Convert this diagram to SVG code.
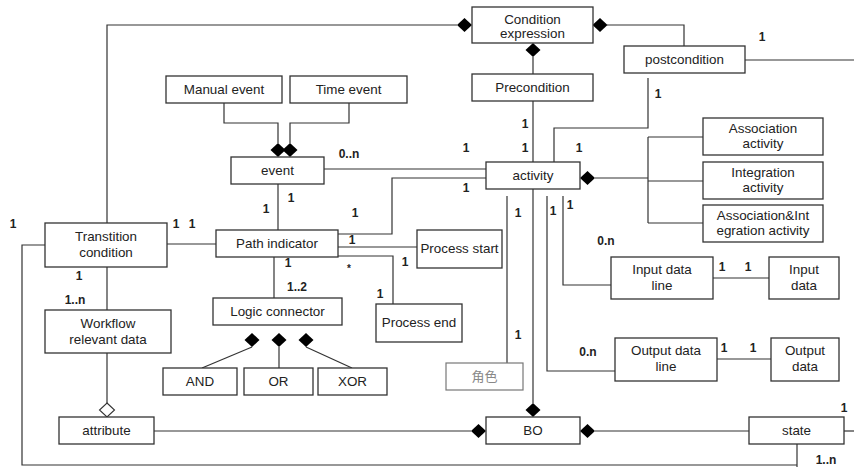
<svg xmlns="http://www.w3.org/2000/svg" xmlns:xlink="http://www.w3.org/1999/xlink" width="854" height="467" viewBox="0 0 854 467">
<style>
.b{fill:#fff;stroke:#333;stroke-width:1.3}
.g{fill:#fff;stroke:#777;stroke-width:1.2}
.t{font-family:"Liberation Sans",Arial,sans-serif;font-size:13.4px;fill:#222;text-anchor:middle}
.tg{font-family:"Liberation Sans","Noto Sans CJK SC",sans-serif;font-size:13px;fill:#888;text-anchor:middle}
.l{font-family:"Liberation Sans",Arial,sans-serif;font-size:12px;font-weight:bold;fill:#222;text-anchor:middle}
.c{fill:none;stroke:#333;stroke-width:1.2}
.d{fill:#000}
.h{fill:#fff;stroke:#333;stroke-width:1.1}
</style>
<defs>
<polygon id="dm" points="0,-7 7.5,0 0,7 -7.5,0"/>
</defs>
<rect width="854" height="467" fill="#fff"/>
<g id="connectors">
<polyline class="c" points="107,223 107,25 457,25"/>
<polyline class="c" points="607,25 684,25 684,46"/>
<line class="c" x1="533" y1="57" x2="533" y2="74"/>
<line class="c" x1="533" y1="101" x2="533" y2="162"/>
<line class="c" x1="745" y1="60" x2="854" y2="60"/>
<polyline class="c" points="648,78 648,128 554,128 554,162"/>
<polyline class="c" points="224,103 224,123 278,123 278,143"/>
<polyline class="c" points="349,103 349,123 290,123 290,143"/>
<line class="c" x1="324" y1="169" x2="486" y2="169"/>
<polyline class="c" points="338,234 392,234 392,178 486,178"/>
<line class="c" x1="278" y1="184" x2="278" y2="230"/>
<line class="c" x1="167" y1="244" x2="216" y2="244"/>
<line class="c" x1="338" y1="247" x2="417" y2="247"/>
<polyline class="c" points="338,256 393,256 393,304"/>
<line class="c" x1="274" y1="257" x2="274" y2="298"/>
<line class="c" x1="252" y1="347" x2="202" y2="368"/>
<line class="c" x1="279" y1="347" x2="279" y2="368"/>
<line class="c" x1="306" y1="347" x2="352" y2="368"/>
<line class="c" x1="595" y1="178" x2="648" y2="178"/>
<line class="c" x1="648" y1="137" x2="648" y2="223"/>
<line class="c" x1="648" y1="137" x2="703" y2="137"/>
<line class="c" x1="648" y1="181" x2="703" y2="181"/>
<line class="c" x1="648" y1="223" x2="703" y2="223"/>
<line class="c" x1="507" y1="196" x2="507" y2="363"/>
<line class="c" x1="533" y1="189" x2="533" y2="403"/>
<polyline class="c" points="547,196 547,371 615,371"/>
<polyline class="c" points="563,196 563,285 611,285"/>
<line class="c" x1="713" y1="278" x2="769" y2="278"/>
<line class="c" x1="717" y1="359" x2="771" y2="359"/>
<line class="c" x1="107" y1="267" x2="107" y2="310"/>
<line class="c" x1="107" y1="353" x2="107" y2="403"/>
<line class="c" x1="154" y1="431" x2="471" y2="431"/>
<line class="c" x1="595" y1="431" x2="749" y2="431"/>
<line class="c" x1="844" y1="431" x2="854" y2="431"/>
<line class="c" x1="797" y1="444" x2="797" y2="467"/>
<polyline class="c" points="45,245 22,245 22,465 797,465"/>
<use href="#dm" class="d" x="464.5" y="25"/>
<use href="#dm" class="d" x="600" y="25"/>
<use href="#dm" class="d" x="533" y="50"/>
<use href="#dm" class="d" x="278" y="150"/>
<use href="#dm" class="d" x="290" y="150"/>
<use href="#dm" class="d" x="252" y="340"/>
<use href="#dm" class="d" x="279" y="340"/>
<use href="#dm" class="d" x="306" y="340"/>
<use href="#dm" class="d" x="587.5" y="178"/>
<use href="#dm" class="d" x="533" y="410"/>
<use href="#dm" class="d" x="478.5" y="431"/>
<use href="#dm" class="d" x="587.5" y="431"/>
<use href="#dm" class="h" x="107" y="410"/>
</g>
<g id="labels">
<text class="l" x="349" y="158">0..n</text>
<text class="l" x="466" y="152">1</text>
<text class="l" x="525" y="128">1</text>
<text class="l" x="525" y="152">1</text>
<text class="l" x="579" y="152">1</text>
<text class="l" x="762" y="41">1</text>
<text class="l" x="658" y="98">1</text>
<text class="l" x="466" y="192">1</text>
<text class="l" x="291" y="202">1</text>
<text class="l" x="266" y="213">1</text>
<text class="l" x="355" y="217">1</text>
<text class="l" x="352" y="244">1</text>
<text class="l" x="288" y="267">1</text>
<text class="l" x="349" y="272" style="font-size:10px">*</text>
<text class="l" x="405" y="266">1</text>
<text class="l" x="297" y="291">1..2</text>
<text class="l" x="380" y="298">1</text>
<text class="l" x="176" y="228">1</text>
<text class="l" x="192" y="228">1</text>
<text class="l" x="13" y="228">1</text>
<text class="l" x="79" y="280">1</text>
<text class="l" x="75" y="304">1..n</text>
<text class="l" x="518" y="217">1</text>
<text class="l" x="553" y="215">1</text>
<text class="l" x="570" y="209">1</text>
<text class="l" x="606" y="245">0.n</text>
<text class="l" x="518" y="339">1</text>
<text class="l" x="588" y="356">0.n</text>
<text class="l" x="722" y="271">1</text>
<text class="l" x="748" y="271">1</text>
<text class="l" x="724" y="352">1</text>
<text class="l" x="753" y="352">1</text>
<text class="l" x="844" y="412">1</text>
<text class="l" x="826" y="464">1..n</text>
</g>
<g id="condition-expression"><rect class="b" x="472" y="7" width="121" height="36"/><text class="t" x="532.5" y="24">Condition</text><text class="t" x="532.5" y="38">expression</text></g>
<g id="postcondition"><rect class="b" x="624" y="46" width="121" height="27"/><text class="t" x="684.5" y="64">postcondition</text></g>
<g id="manual-event"><rect class="b" x="166" y="76" width="116" height="27"/><text class="t" x="224" y="94">Manual event</text></g>
<g id="time-event"><rect class="b" x="290" y="76" width="117" height="27"/><text class="t" x="348.5" y="94">Time event</text></g>
<g id="precondition"><rect class="b" x="472" y="74" width="121" height="27"/><text class="t" x="532.5" y="92">Precondition</text></g>
<g id="association-activity"><rect class="b" x="703" y="118" width="120" height="37"/><text class="t" x="763" y="133">Association</text><text class="t" x="763" y="148">activity</text></g>
<g id="event"><rect class="b" x="231" y="157" width="93" height="27"/><text class="t" x="277.5" y="175">event</text></g>
<g id="activity"><rect class="b" x="486" y="162" width="94" height="27"/><text class="t" x="533" y="180">activity</text></g>
<g id="integration-activity"><rect class="b" x="703" y="162" width="120" height="37"/><text class="t" x="763" y="177">Integration</text><text class="t" x="763" y="192">activity</text></g>
<g id="association-integration-activity"><rect class="b" x="703" y="205" width="120" height="37"/><text class="t" x="763" y="220">Association&amp;Int</text><text class="t" x="763" y="235">egration activity</text></g>
<g id="transition-condition"><rect class="b" x="45" y="223" width="122" height="44"/><text class="t" x="106" y="241">Transtition</text><text class="t" x="106" y="257">condition</text></g>
<g id="path-indicator"><rect class="b" x="216" y="230" width="122" height="27"/><text class="t" x="277" y="248">Path indicator</text></g>
<g id="process-start"><rect class="b" x="417" y="230" width="85" height="38"/><text class="t" x="459.5" y="253">Process start</text></g>
<g id="input-data-line"><rect class="b" x="611" y="257" width="102" height="42"/><text class="t" x="662" y="274">Input data</text><text class="t" x="662" y="290">line</text></g>
<g id="input-data"><rect class="b" x="769" y="257" width="70" height="42"/><text class="t" x="804" y="274">Input</text><text class="t" x="804" y="290">data</text></g>
<g id="logic-connector"><rect class="b" x="213" y="298" width="129" height="27"/><text class="t" x="277.5" y="316">Logic connector</text></g>
<g id="process-end"><rect class="b" x="376" y="304" width="86" height="38"/><text class="t" x="419" y="327">Process end</text></g>
<g id="workflow-relevant-data"><rect class="b" x="45" y="310" width="126" height="43"/><text class="t" x="108" y="328">Workflow</text><text class="t" x="108" y="344">relevant data</text></g>
<g id="and"><rect class="b" x="163" y="368" width="74" height="27"/><text class="t" x="200" y="386">AND</text></g>
<g id="or"><rect class="b" x="244" y="368" width="69" height="27"/><text class="t" x="278.5" y="386">OR</text></g>
<g id="xor"><rect class="b" x="318" y="368" width="69" height="27"/><text class="t" x="352.5" y="386">XOR</text></g>
<g id="role"><rect class="g" x="446" y="363" width="77" height="27"/><text class="tg" x="484.5" y="381">角色</text></g>
<g id="output-data-line"><rect class="b" x="615" y="338" width="102" height="43"/><text class="t" x="666" y="355">Output data</text><text class="t" x="666" y="371">line</text></g>
<g id="output-data"><rect class="b" x="771" y="338" width="68" height="43"/><text class="t" x="805" y="355">Output</text><text class="t" x="805" y="371">data</text></g>
<g id="attribute"><rect class="b" x="59" y="417" width="95" height="27"/><text class="t" x="106.5" y="435">attribute</text></g>
<g id="bo"><rect class="b" x="486" y="417" width="94" height="27"/><text class="t" x="533" y="435">BO</text></g>
<g id="state"><rect class="b" x="749" y="417" width="95" height="27"/><text class="t" x="796.5" y="435">state</text></g>
</svg>
